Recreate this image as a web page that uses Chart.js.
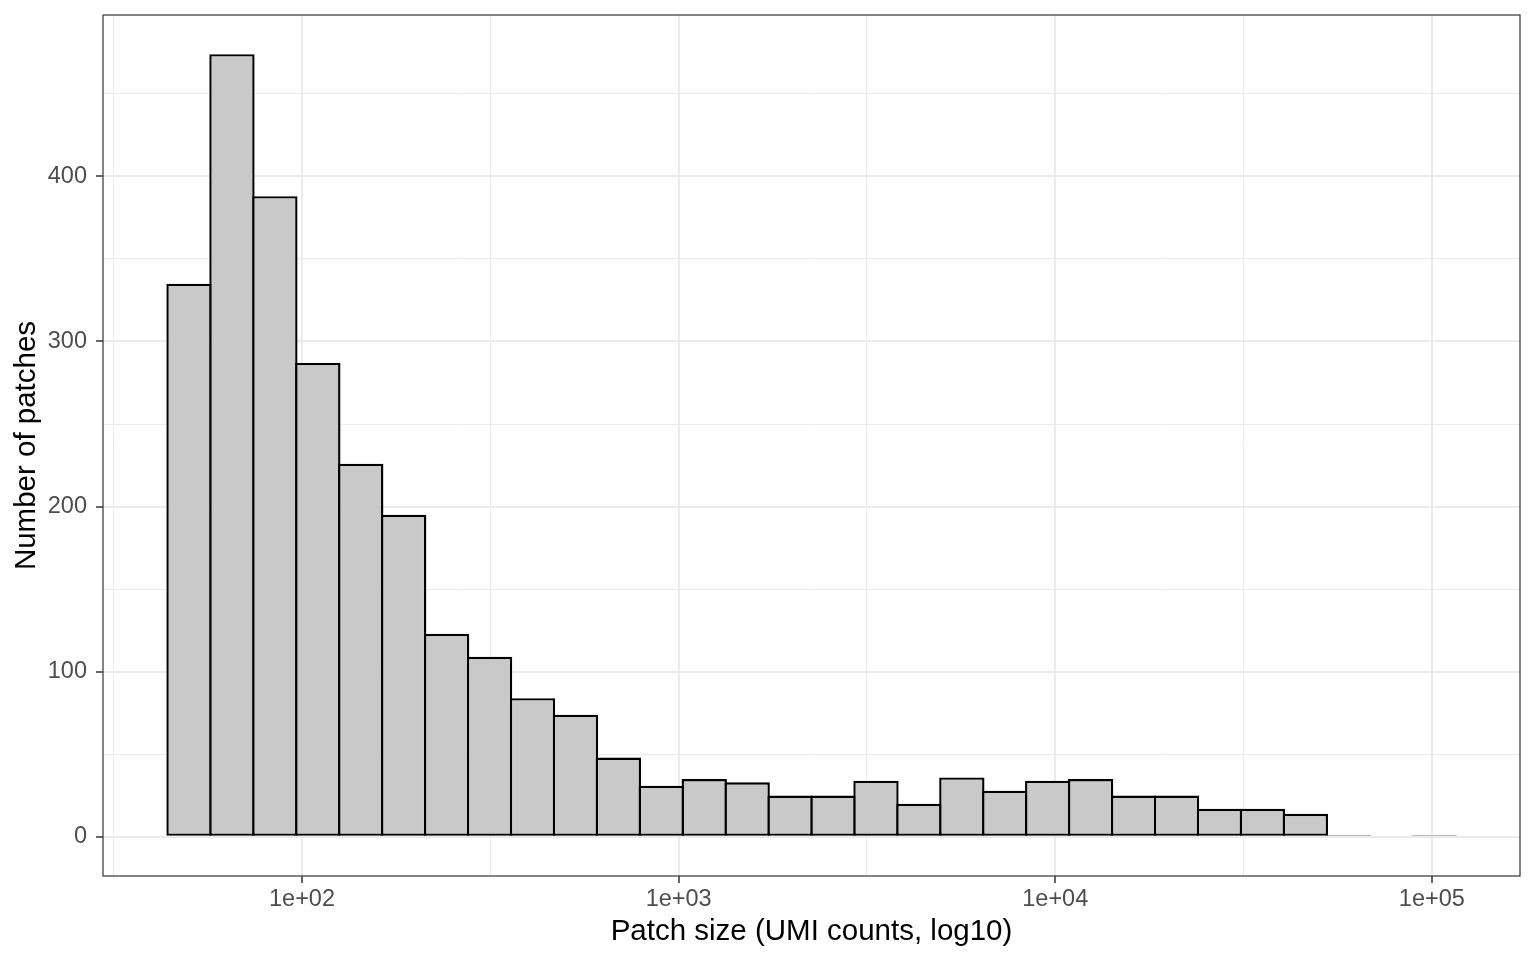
<!DOCTYPE html>
<html>
<head>
<meta charset="utf-8">
<script src="https://cdn.jsdelivr.net/npm/chart.js@4"></script>
<style>
  html, body { margin: 0; padding: 0; background: #fff; }
  #wrap { width: 1536px; height: 960px; }
</style>
</head>
<body>
<div id="wrap"><canvas id="histChart" width="1536" height="960"></canvas></div>
<script>
// bin centres on log10(UMI counts)
const binCenters = [1.700, 1.814, 1.928, 2.042, 2.156, 2.270, 2.384, 2.498, 2.612, 2.726,
  2.840, 2.954, 3.068, 3.182, 3.296, 3.410, 3.524, 3.638, 3.752, 3.866,
  3.980, 4.094, 4.208, 4.322, 4.436, 4.550, 4.664, 4.778, 4.892, 5.006];
const patchCounts = [335, 474, 388, 287, 226, 195, 123, 109, 84, 74,
  48, 31, 35, 33, 25, 25, 34, 20, 36, 28,
  34, 35, 25, 25, 17, 17, 14, 1, 0, 1];
const xMajor = [2, 3, 4, 5];
const xMinor = [1.5, 2.5, 3.5, 4.5];
const yMajor = [0, 100, 200, 300, 400];
const yMinor = [50, 150, 250, 350, 450];

const ctx = document.getElementById('histChart').getContext('2d');

const isMajor = (list, v) => list.some(m => Math.abs(m - v) < 1e-6);
const tickIsMajor = (list, c) => c.tick ? isMajor(list, c.tick.value) : true;

// panel border like theme_bw
const panelBorder = {
  id: 'panelBorder',
  afterDraw(chart) {
    const a = chart.chartArea;
    const c = chart.ctx;
    c.save();
    c.strokeStyle = '#333333';
    c.lineWidth = 1.2;
    c.strokeRect(a.left, a.top, a.right - a.left, a.bottom - a.top);
    c.restore();
  }
};

const chart = new Chart(ctx, {
  type: 'bar',
  data: {
    datasets: [{
      data: binCenters.map((x, i) => ({ x: x, y: patchCounts[i] })),
      backgroundColor: '#C9C9C9',
      borderColor: '#000000',
      borderWidth: 2.4,
      borderSkipped: false,
      // slight overlap so neighbouring outlines share one line
      barPercentage: 1.056,
      categoryPercentage: 1,
    }],
  },
  options: {
    responsive: false,
    animation: false,
    layout: { padding: { left: 0, right: 16, top: 15, bottom: 0 } },
    plugins: {
      legend: { display: false },
      tooltip: { enabled: false },
    },
    scales: {
      x: {
        type: 'linear',
        offset: false,
        min: 1.4716,
        max: 5.234,
        afterBuildTicks: s => { s.ticks = [...xMinor, ...xMajor].sort((a, b) => a - b).map(v => ({ value: v })); },
        afterFit: s => { s.height = 84; s.paddingLeft = 0; s.paddingRight = 0; },
        border: { display: false },
        grid: {
          offset: false,
          color: '#EBEBEB',
          lineWidth: c => tickIsMajor(xMajor, c) ? 2 : 1,
          tickLength: 7,
          tickColor: c => tickIsMajor(xMajor, c) ? '#333333' : 'rgba(0,0,0,0)',
          tickWidth: 1.5,
        },
        ticks: {
          autoSkip: false,
          maxRotation: 0,
          padding: 2,
          color: '#4D4D4D',
          font: { family: 'Liberation Sans', size: 23.5 },
          callback: v => isMajor(xMajor, v) ? '1e+0' + v : '',
        },
        title: {
          display: true,
          text: 'Patch size (UMI counts, log10)',
          color: '#000000',
          font: { family: 'Liberation Sans', size: 29.5 },
          padding: { top: 10, bottom: 10 },
        },
      },
      y: {
        type: 'linear',
        min: -23.7,
        max: 497.7,
        afterBuildTicks: s => { s.ticks = [...yMajor, ...yMinor].sort((a, b) => a - b).map(v => ({ value: v })); },
        afterFit: s => { s.width = 103; s.paddingTop = 0; s.paddingBottom = 0; },
        border: { display: false },
        grid: {
          color: '#EBEBEB',
          lineWidth: c => tickIsMajor(yMajor, c) ? 2 : 1,
          tickLength: 7,
          tickColor: c => tickIsMajor(yMajor, c) ? '#333333' : 'rgba(0,0,0,0)',
          tickWidth: 1.5,
        },
        ticks: {
          autoSkip: false,
          padding: 9,
          color: '#4D4D4D',
          font: { family: 'Liberation Sans', size: 23.5 },
          callback: v => isMajor(yMajor, v) ? String(v) : '',
        },
        title: {
          display: true,
          text: 'Number of patches',
          color: '#000000',
          font: { family: 'Liberation Sans', size: 29.5 },
          padding: { top: 9, bottom: 4 },
        },
      },
    },
  },
  plugins: [panelBorder],
});
</script>
</body>
</html>
